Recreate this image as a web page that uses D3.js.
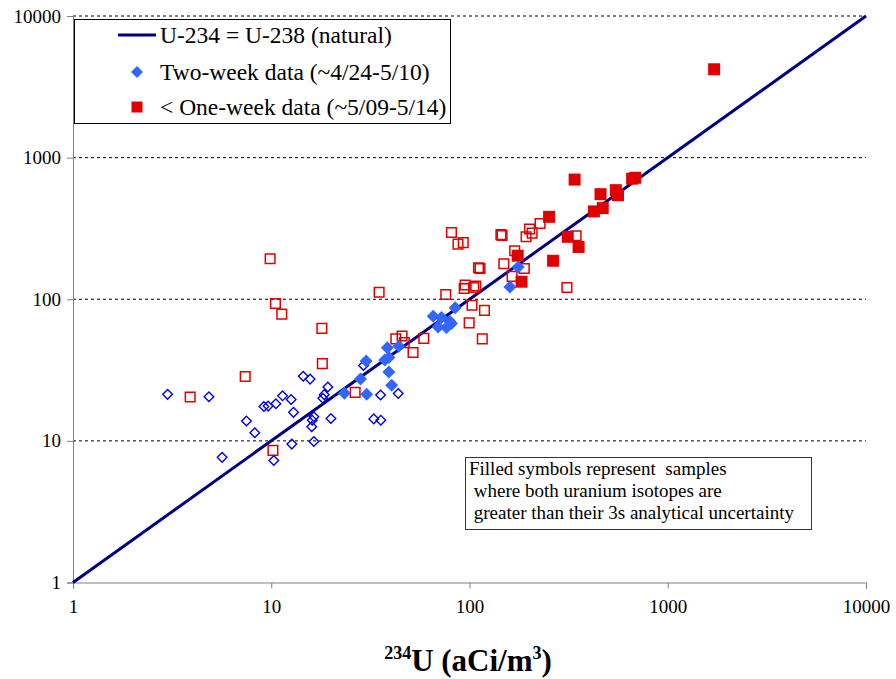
<!DOCTYPE html>
<html>
<head>
<meta charset="utf-8">
<script src="https://cdn.jsdelivr.net/npm/d3@7"></script>
<style>
  html, body { margin: 0; padding: 0; background: #fff; }
</style>
</head>
<body>
<div id="chart"></div>
<script>
  // values: [234U, 238U] in aCi/m3
  const twoWeekOpen = [
    [3.0, 21.3], [4.85, 20.5], [5.65, 7.65], [7.5, 13.8], [8.26, 11.4],
    [9.18, 17.5], [9.64, 17.6], [10.55, 18.3], [11.4, 20.8], [12.6, 19.6],
    [12.95, 15.9], [10.3, 7.26], [12.7, 9.49], [16.4, 9.89], [14.5, 28.6],
    [15.7, 27.3], [16.4, 14.8], [16.1, 14.0], [16.0, 12.6], [18.5, 21.2],
    [18.2, 20.0], [19.3, 24.0], [20.0, 14.4], [29.2, 34.1], [35.6, 21.1],
    [43.7, 21.6], [32.9, 14.3], [35.7, 14.0]
  ];
  const twoWeekFilled = [
    [23.4, 21.7], [28.2, 27.3], [30.3, 21.3], [30.1, 36.7], [38.5, 45.5],
    [37.4, 37.2], [39.2, 38.8], [39.2, 30.6], [40.5, 24.7], [44.0, 46.5],
    [65.6, 75.7], [72.2, 74.4], [79.5, 70.0], [69.4, 63.8], [76.5, 63.2],
    [81.1, 67.5], [84.7, 87], [160, 122], [176, 169]
  ];
  const oneWeekOpen = [
    [3.9, 20.4], [7.39, 28.5], [9.87, 193], [10.5, 93.4], [11.3, 78.5],
    [10.2, 8.57], [18.0, 62.3], [18.1, 35.1], [26.5, 22.0], [35.0, 112],
    [42.5, 52.5], [45.7, 55], [46.9, 49.4], [58.8, 52.9], [51.9, 42.1],
    [75.9, 108], [81.1, 296], [87.5, 245], [93, 251], [95.1, 126],
    [94, 119], [105, 121], [107.5, 124], [103, 90.8], [119, 83.4],
    [99.6, 68.1], [116, 52.5], [111, 167], [113, 165], [144, 286],
    [146, 282], [149, 178], [169, 220], [164, 145], [189, 165],
    [193, 276], [201, 313], [207, 293], [227, 343], [345, 281], [310, 121]
  ];
  const oneWeekFilled = [
    [1714, 4207], [339, 700], [458, 552], [547, 589], [561, 543],
    [686, 721], [661, 710], [470, 440], [424, 417], [252, 382],
    [313, 276], [355, 234], [264, 187], [175, 203], [183, 133]
  ];
  const naturalLine = [[1, 1], [10000, 10000]];
  const xTicks = [1, 10, 100, 1000, 10000];
  const yTicks = [1, 10, 100, 1000, 10000];
  const gridValues = [10, 100, 1000, 10000];
  const legendLabels = [
    "U-234 = U-238 (natural)",
    "Two-week data (~4/24-5/10)",
    "< One-week data (~5/09-5/14)"
  ];
  const noteLines = [
    "Filled symbols represent  samples",
    " where both uranium isotopes are",
    " greater than their 3s analytical uncertainty"
  ];

  const serif = "Liberation Serif";
  const width = 896, height = 679;
  const plot = { left: 73, right: 866, top: 16, bottom: 582.5 };

  const svg = d3.select("#chart").append("svg")
    .attr("width", width)
    .attr("height", height)
    .style("display", "block");

  const x = d3.scaleLog().domain([1, 10000]).range([plot.left, plot.right]);
  const y = d3.scaleLog().domain([1, 10000]).range([plot.bottom, plot.top]);

  // dashed gridlines
  svg.append("g").selectAll("line")
    .data(gridValues)
    .enter().append("line")
    .attr("x1", plot.left).attr("x2", plot.right)
    .attr("y1", d => y(d)).attr("y2", d => y(d))
    .attr("stroke", "#000")
    .attr("stroke-width", 1)
    .attr("stroke-dasharray", "3,3");

  const xAxis = svg.append("g")
    .attr("transform", `translate(0,${plot.bottom})`)
    .call(d3.axisBottom(x).tickValues(xTicks).tickFormat(d3.format("d")).tickSize(6).tickPadding(11));
  const yAxis = svg.append("g")
    .attr("transform", `translate(${plot.left},0)`)
    .call(d3.axisLeft(y).tickValues(yTicks).tickFormat(d3.format("d")).tickSize(6).tickPadding(6));

  [xAxis, yAxis].forEach((g) => {
    g.select(".domain").attr("stroke", "#808080").attr("stroke-width", 1);
    g.selectAll(".tick line").attr("stroke", "#808080");
    g.selectAll(".tick text")
      .attr("fill", "#000")
      .attr("font-family", serif)
      .attr("font-size", 19);
  });

  // y = x line
  svg.append("path")
    .datum(naturalLine)
    .attr("fill", "none")
    .attr("stroke", "#000080")
    .attr("stroke-width", 3)
    .attr("d", d3.line().x(d => x(d[0])).y(d => y(d[1])));

  const diamond = (r) => `M0,${-r}L${r},0L0,${r}L${-r},0Z`;
  const square = (s) => `M${-s},${-s}H${s}V${s}H${-s}Z`;

  const drawPoints = (data, path, fill, stroke, sw) => {
    svg.append("g").selectAll("path")
      .data(data)
      .enter().append("path")
      .attr("transform", d => `translate(${x(d[0])},${y(d[1])})`)
      .attr("d", path)
      .attr("fill", fill)
      .attr("stroke", stroke)
      .attr("stroke-width", sw);
  };

  drawPoints(oneWeekOpen, square(4.8), "none", "#e00000", 1.5);
  drawPoints(oneWeekFilled, square(6), "#e00000", "none", 0);
  drawPoints(twoWeekOpen, diamond(4.8), "none", "#0000e6", 1.4);
  drawPoints(twoWeekFilled, diamond(6.5), "#3366ff", "none", 0);

  // legend
  const legend = svg.append("g");
  legend.append("rect")
    .attr("x", 74.5).attr("y", 19.5)
    .attr("width", 376).attr("height", 104)
    .attr("fill", "#fff")
    .attr("stroke", "#000")
    .attr("stroke-width", 1);
  const rowY = [35, 72, 107];
  legend.append("line")
    .attr("x1", 118).attr("x2", 156)
    .attr("y1", rowY[0]).attr("y2", rowY[0])
    .attr("stroke", "#000080").attr("stroke-width", 3);
  legend.append("path")
    .attr("transform", `translate(137,${rowY[1]})`)
    .attr("d", diamond(6))
    .attr("fill", "#3366ff");
  legend.append("path")
    .attr("transform", `translate(137,${rowY[2]})`)
    .attr("d", square(5.5))
    .attr("fill", "#e00000");
  legend.selectAll("text.lab")
    .data(legendLabels)
    .enter().append("text")
    .attr("class", "lab")
    .attr("x", 160)
    .attr("y", (d, i) => rowY[i] + 8)
    .attr("font-family", serif)
    .attr("font-size", 23.5)
    .text(d => d);

  // note box
  const note = svg.append("g");
  note.append("rect")
    .attr("x", 465.5).attr("y", 457.5)
    .attr("width", 346).attr("height", 72)
    .attr("fill", "#fff")
    .attr("stroke", "#333")
    .attr("stroke-width", 1);
  note.selectAll("text")
    .data(noteLines)
    .enter().append("text")
    .attr("x", 469)
    .attr("y", (d, i) => 475 + i * 22)
    .attr("xml:space", "preserve")
    .style("white-space", "pre")
    .attr("font-family", serif)
    .attr("font-size", 19)
    .text(d => d);

  // x axis title
  const title = svg.append("text")
    .attr("x", 468)
    .attr("y", 671)
    .attr("text-anchor", "middle")
    .attr("font-family", serif)
    .attr("font-size", 31)
    .attr("font-weight", "bold");
  title.append("tspan").attr("dy", "-12").attr("font-size", 18).text("234");
  title.append("tspan").attr("dy", "12").text("U (aCi/m");
  title.append("tspan").attr("dy", "-12").attr("font-size", 18).text("3");
  title.append("tspan").attr("dy", "12").text(")");
</script>
</body>
</html>
